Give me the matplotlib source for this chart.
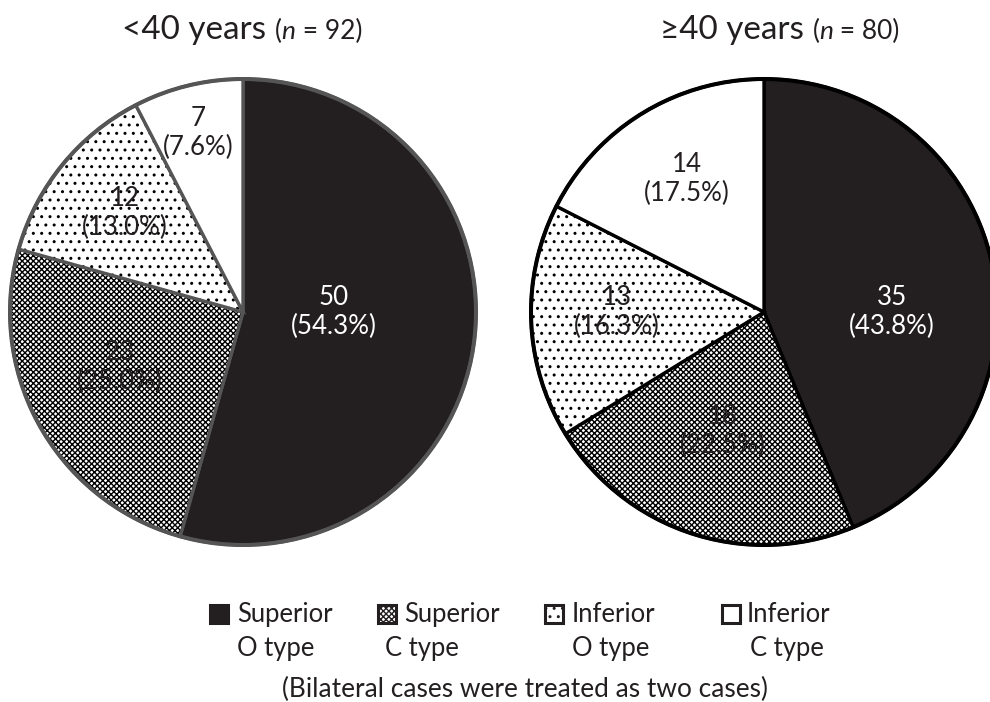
import numpy as np
import matplotlib
matplotlib.use("Agg")
import matplotlib.pyplot as plt
from matplotlib.patches import Rectangle, Wedge, Circle

plt.rcParams['font.family'] = ['Lato', 'DejaVu Sans']
plt.rcParams['hatch.linewidth'] = 1.0

# ---- data ----
CATEGORIES = ["Superior O type", "Superior C type", "Inferior O type", "Inferior C type"]
LEGEND_L1 = ["Superior", "Superior", "Inferior", "Inferior"]
LEGEND_L2 = ["O type", "C type", "O type", "C type"]
GROUPS = ["<40 years", "\u226540 years"]
GROUP_N = [92, 80]
COUNTS_YOUNG = [50, 23, 12, 7]
COUNTS_OLD = [35, 18, 13, 14]
FOOTNOTE = "(Bilateral cases were treated as two cases)"

# ---- style ----
W, H = 990, 702
INK = "#231f20"
FILLS = [INK, "white", "white", "white"]
HATCHES = [None, "xxxxxx", "..", None]
TXT_COL = ["white", INK, INK, INK]
# label placement (radius, angle in deg) per slice
LBL_YOUNG = [(0.39, 0), (0.58, 204), (0.66, 140), (0.79, 104)]
LBL_OLD = [(0.55, 0), (0.54, 251), (0.63, 180), (0.66, 120)]

fig = plt.figure(figsize=(W / 100, H / 100), dpi=100)
renderer = fig.canvas.get_renderer()


def fit(s, target, **kw):
    # font size that makes string s about target px wide
    t = fig.text(0, 0, s, fontsize=10, **kw)
    w = t.get_window_extent(renderer).width
    t.remove()
    return 10 * target / w


TITLE_FS = fit("<40 years", 144)
SMALL_FS = fit("(n = 92)", 88)
LABEL_FS = fit("(54.3%)", 86)
LEG_FS = fit("Superior", 96)
FOOT_FS = fit("(Bilateral cases were treated as two c", 428)


def pie_axes(cx, cy, r):
    ax = fig.add_axes([(cx - r) / W, 1 - (cy + r) / H, 2 * r / W, 2 * r / H])
    ax.set_xlim(-1, 1)
    ax.set_ylim(-1, 1)
    ax.axis("off")
    return ax


def draw_pie(ax, counts, lbl, edge, lw):
    total = sum(counts)
    start = 90.0
    for i, c in enumerate(counts):
        span = 360.0 * c / total
        ax.add_patch(Wedge((0, 0), 1, start - span, start, facecolor=FILLS[i],
                           edgecolor="black", lw=0, hatch=HATCHES[i]))
        ax.add_patch(Wedge((0, 0), 1, start - span, start, fill=False,
                           edgecolor=edge, lw=lw, clip_on=False))
        r, a = lbl[i]
        pct = np.floor(1000.0 * c / total + 0.5) / 10  # round half up like Excel
        ax.text(r * np.cos(np.radians(a)), r * np.sin(np.radians(a)),
                f"{c}\n({pct:.1f}%)", ha="center", va="center",
                fontsize=LABEL_FS, color=TXT_COL[i], linespacing=1.2)
        start -= span
    ax.add_patch(Circle((0, 0), 1, fill=False, edgecolor=edge, lw=lw + 0.5, clip_on=False))


axL = pie_axes(243, 312, 233)
draw_pie(axL, COUNTS_YOUNG, LBL_YOUNG, "#555555", 2.4)
axR = pie_axes(764, 312, 233)
draw_pie(axR, COUNTS_OLD, LBL_OLD, "black", 2.4)


def title(x0, base_y, group, n):
    parts = [(group + " ", TITLE_FS, "normal"), ("(", SMALL_FS, "normal"),
             ("n", SMALL_FS, "italic"), (f" = {n})", SMALL_FS, "normal")]
    x = x0
    for s, fs, st in parts:
        t = fig.text(x / W, 1 - base_y / H, s, fontsize=fs, style=st, color=INK,
                     va="baseline", ha="left")
        x += t.get_window_extent(renderer).width


title(122, 39, GROUPS[0], GROUP_N[0])
title(660, 39, GROUPS[1], GROUP_N[1])

# legend
SQ_X = [210, 378, 545, 722]
L1_X = [237, 404, 572, 747]
L2_X = [237, 385, 572, 750]
for i in range(4):
    sq = Rectangle((SQ_X[i] / W, 1 - 623 / H), 18 / W, 18 / H, transform=fig.transFigure,
                   facecolor=FILLS[i], edgecolor=INK, lw=2.2, hatch=HATCHES[i])
    fig.add_artist(sq)
    fig.text(L1_X[i] / W, 1 - 622 / H, LEGEND_L1[i], fontsize=LEG_FS, color=INK,
             va="baseline", ha="left")
    fig.text(L2_X[i] / W, 1 - 656 / H, LEGEND_L2[i], fontsize=LEG_FS, color=INK,
             va="baseline", ha="left")

fig.text(282 / W, 1 - 697 / H, FOOTNOTE, fontsize=FOOT_FS, color=INK, ha="left", va="baseline")

fig.savefig("out.png", dpi=100)
